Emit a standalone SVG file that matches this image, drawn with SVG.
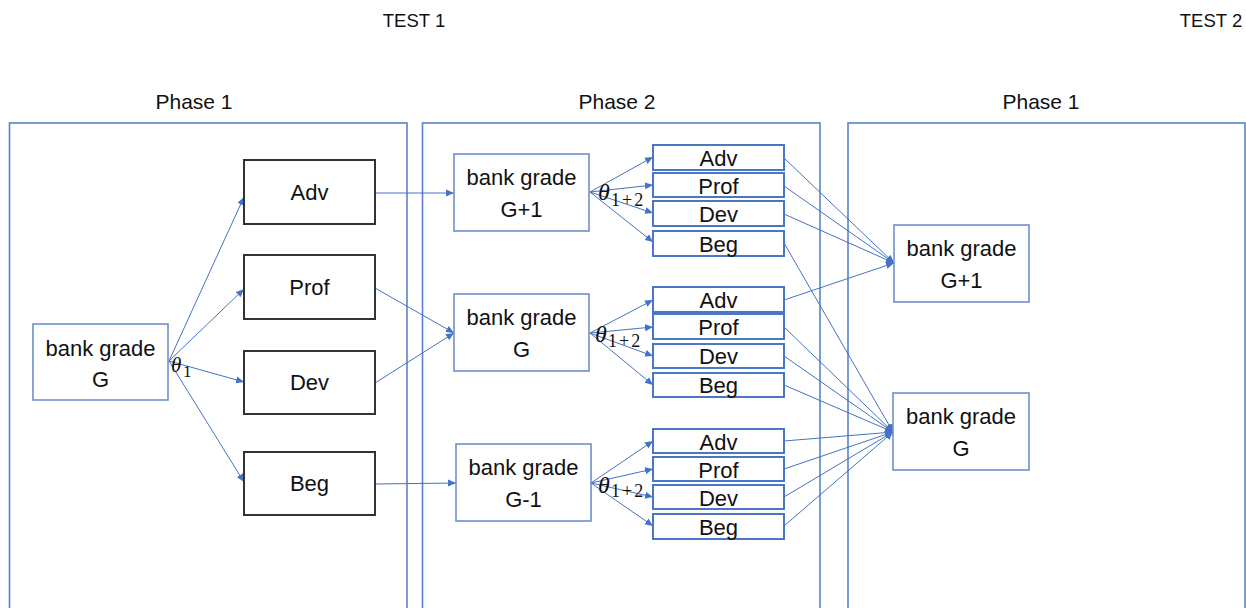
<svg xmlns="http://www.w3.org/2000/svg" width="1246" height="608" viewBox="0 0 1246 608">
<style>
text{font-family:"Liberation Sans",Arial,sans-serif;fill:#111;}
.lbl{font-size:22px;text-anchor:middle;}
.hdr{font-size:21px;text-anchor:middle;}
.test{font-size:18.5px;text-anchor:middle;}
.cont{fill:none;stroke:#5a82c8;stroke-width:1.6;}
.dark{fill:#fff;stroke:#333;stroke-width:2;}
.bank{fill:#fff;stroke:#6f8fcc;stroke-width:1.6;}
.small{fill:#fff;stroke:#4a76c6;stroke-width:2;}
.th{font-family:"Liberation Serif","DejaVu Serif",serif;font-style:italic;}
.sub{font-family:"Liberation Serif","DejaVu Serif",serif;}
.s12{font-size:18px;letter-spacing:2px;}
#connectors line{stroke:#4472c4;stroke-width:1;marker-end:url(#ah);}
</style>
<defs>
<marker id="ah" markerUnits="userSpaceOnUse" markerWidth="10" markerHeight="8" refX="8" refY="4" orient="auto">
<path d="M0,0.5 L8,4 L0,7.5 Z" fill="#4472c4"/>
</marker>
</defs>
<rect width="1246" height="608" fill="#fff"/>
<text class="test" x="414" y="27">TEST 1</text>
<text class="test" x="1211" y="27">TEST 2</text>
<g id="test1-phase1">
<rect class="cont" x="9.5" y="123" width="397.5" height="500"/>
<text class="hdr" x="194" y="109">Phase 1</text>
</g>
<g id="test1-phase2">
<rect class="cont" x="422.5" y="123" width="397.5" height="500"/>
<text class="hdr" x="617" y="109">Phase 2</text>
</g>
<g id="test2-phase1">
<rect class="cont" x="848" y="123" width="397" height="500"/>
<text class="hdr" x="1041" y="109">Phase 1</text>
</g>
<g id="connectors">
<line x1="169" y1="361" x2="244" y2="197"/>
<line x1="169" y1="361" x2="244" y2="289"/>
<line x1="169" y1="361" x2="244" y2="382"/>
<line x1="169" y1="361" x2="244" y2="482"/>
<line x1="375" y1="193" x2="454" y2="193"/>
<line x1="375" y1="288" x2="454" y2="333"/>
<line x1="375" y1="383" x2="454" y2="333"/>
<line x1="375" y1="484" x2="456" y2="483"/>
<line x1="590" y1="192" x2="653" y2="157"/>
<line x1="590" y1="192" x2="653" y2="185"/>
<line x1="590" y1="192" x2="653" y2="213"/>
<line x1="590" y1="192" x2="653" y2="242"/>
<line x1="590" y1="333" x2="653" y2="300"/>
<line x1="590" y1="333" x2="653" y2="327"/>
<line x1="590" y1="333" x2="653" y2="356"/>
<line x1="590" y1="333" x2="653" y2="385"/>
<line x1="591" y1="483" x2="653" y2="441"/>
<line x1="591" y1="483" x2="653" y2="469"/>
<line x1="591" y1="483" x2="653" y2="497"/>
<line x1="591" y1="483" x2="653" y2="526"/>
<line x1="784" y1="158" x2="894" y2="263"/>
<line x1="784" y1="186" x2="894" y2="263"/>
<line x1="784" y1="214" x2="894" y2="263"/>
<line x1="784" y1="300" x2="894" y2="263"/>
<line x1="784" y1="243" x2="893" y2="432"/>
<line x1="784" y1="327" x2="893" y2="432"/>
<line x1="784" y1="356" x2="893" y2="432"/>
<line x1="784" y1="385" x2="893" y2="432"/>
<line x1="784" y1="441" x2="893" y2="432"/>
<line x1="784" y1="469" x2="893" y2="432"/>
<line x1="784" y1="497" x2="893" y2="432"/>
<line x1="784" y1="526" x2="893" y2="432"/>
</g>
<g id="p1-bank-G">
<rect class="bank" x="33" y="324" width="135" height="76"/>
<text class="lbl" x="100.5" y="356">bank grade</text>
<text class="lbl" x="100.5" y="387">G</text>
</g>
<g id="theta1">
<text class="th" x="171" y="372" font-size="21">θ</text>
<text class="sub" x="183" y="377" font-size="17">1</text>
</g>
<g id="p1-adv"><rect class="dark" x="244" y="160" width="131" height="64"/><text class="lbl" x="309.5" y="200">Adv</text></g>
<g id="p1-prof"><rect class="dark" x="244" y="255" width="131" height="64"/><text class="lbl" x="309.5" y="295">Prof</text></g>
<g id="p1-dev"><rect class="dark" x="244" y="351" width="131" height="63"/><text class="lbl" x="309.5" y="390">Dev</text></g>
<g id="p1-beg"><rect class="dark" x="244" y="452" width="131" height="63"/><text class="lbl" x="309.5" y="491">Beg</text></g>

<g id="p2-bank-G1">
<rect class="bank" x="454" y="154" width="135" height="77"/>
<text class="lbl" x="521.5" y="185">bank grade</text>
<text class="lbl" x="521.5" y="217">G+1</text>
</g>
<g id="p2-bank-G">
<rect class="bank" x="454" y="294" width="135" height="77"/>
<text class="lbl" x="521.5" y="325">bank grade</text>
<text class="lbl" x="521.5" y="357">G</text>
</g>
<g id="p2-bank-Gm1">
<rect class="bank" x="456" y="444" width="135" height="77"/>
<text class="lbl" x="523.5" y="475">bank grade</text>
<text class="lbl" x="523.5" y="507">G-1</text>
</g>
<g id="theta12-a">
<text class="th" x="598" y="200" font-size="24">θ</text>
<text class="sub s12" x="611" y="206">1+2</text>
</g>
<g id="theta12-b">
<text class="th" x="595" y="342" font-size="24">θ</text>
<text class="sub s12" x="608" y="347">1+2</text>
</g>
<g id="theta12-c">
<text class="th" x="598" y="493" font-size="24">θ</text>
<text class="sub s12" x="611" y="497">1+2</text>
</g>

<g id="g1-adv"><rect class="small" x="653" y="145" width="131" height="25"/><text class="lbl" x="718.5" y="166">Adv</text></g>
<g id="g1-prof"><rect class="small" x="653" y="173" width="131" height="24"/><text class="lbl" x="718.5" y="194">Prof</text></g>
<g id="g1-dev"><rect class="small" x="653" y="201" width="131" height="25"/><text class="lbl" x="718.5" y="222">Dev</text></g>
<g id="g1-beg"><rect class="small" x="653" y="231" width="131" height="25"/><text class="lbl" x="718.5" y="252">Beg</text></g>

<g id="g0-adv"><rect class="small" x="653" y="287" width="131" height="25"/><text class="lbl" x="718.5" y="308">Adv</text></g>
<g id="g0-prof"><rect class="small" x="653" y="314" width="131" height="25"/><text class="lbl" x="718.5" y="335">Prof</text></g>
<g id="g0-dev"><rect class="small" x="653" y="344" width="131" height="24"/><text class="lbl" x="718.5" y="364">Dev</text></g>
<g id="g0-beg"><rect class="small" x="653" y="373" width="131" height="24"/><text class="lbl" x="718.5" y="393">Beg</text></g>

<g id="gm1-adv"><rect class="small" x="653" y="429" width="131" height="24"/><text class="lbl" x="718.5" y="450">Adv</text></g>
<g id="gm1-prof"><rect class="small" x="653" y="457" width="131" height="24"/><text class="lbl" x="718.5" y="478">Prof</text></g>
<g id="gm1-dev"><rect class="small" x="653" y="485" width="131" height="24"/><text class="lbl" x="718.5" y="506">Dev</text></g>
<g id="gm1-beg"><rect class="small" x="653" y="514" width="131" height="25"/><text class="lbl" x="718.5" y="535">Beg</text></g>

<g id="t2-bank-G1">
<rect class="bank" x="894" y="225" width="135" height="77"/>
<text class="lbl" x="961.5" y="256">bank grade</text>
<text class="lbl" x="961.5" y="288">G+1</text>
</g>
<g id="t2-bank-G">
<rect class="bank" x="893" y="393" width="136" height="77"/>
<text class="lbl" x="961" y="424">bank grade</text>
<text class="lbl" x="961" y="456">G</text>
</g>
</svg>
